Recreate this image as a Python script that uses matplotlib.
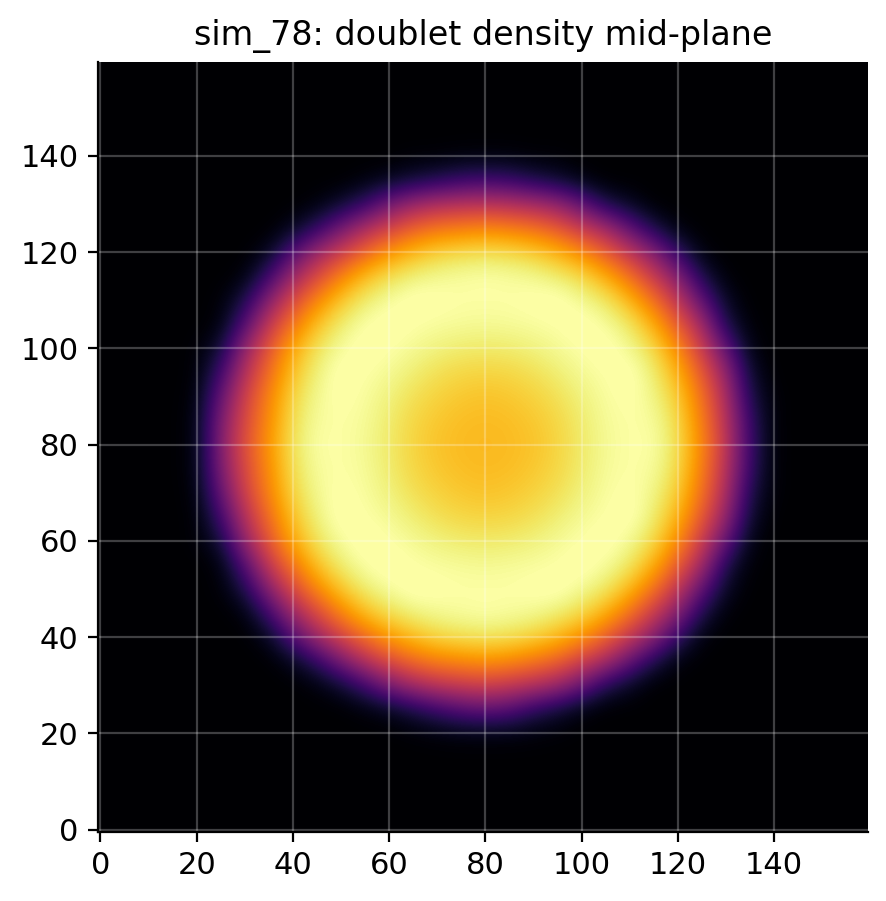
import numpy as np
import matplotlib
matplotlib.use("Agg")
import matplotlib.pyplot as plt

# density every 5 cells, x and y both 20..140, bottom row first
density_core = [
    [0, 0, 0, 0, 0, 0, 0, 0, 0, .01, .02, .03, .03, .03, .02, .01, 0, 0, 0, 0, 0, 0, 0, 0, 0],
    [0, 0, 0, 0, 0, 0, 0, .02, .05, .11, .18, .24, .27, .24, .15, .09, .03, 0, 0, 0, 0, 0, 0, 0, 0],
    [0, 0, 0, 0, 0, .02, .08, .19, .34, .44, .50, .53, .55, .52, .48, .42, .30, .13, .06, 0, 0, 0, 0, 0, 0],
    [0, 0, 0, 0, .05, .16, .33, .48, .59, .67, .72, .74, .76, .74, .70, .65, .55, .45, .28, .12, .02, 0, 0, 0, 0],
    [0, 0, 0, .05, .24, .42, .56, .68, .78, .85, .90, .92, .93, .92, .89, .84, .76, .65, .52, .37, .17, .02, 0, 0, 0],
    [0, 0, .02, .19, .42, .58, .73, .85, .92, .96, .98, .99, 1.0, .99, .98, .95, .91, .82, .69, .53, .36, .12, .01, 0, 0],
    [0, .01, .12, .37, .58, .74, .87, .95, .99, 1.02, 1.01, 1.0, 1.0, 1.0, 1.01, 1.02, .98, .94, .84, .69, .51, .27, .06, 0, 0],
    [0, .02, .24, .52, .70, .86, .95, 1.0, 1.02, 1.0, .99, .985, .98, .985, .99, 1.0, 1.02, .99, .94, .82, .64, .44, .12, .01, 0],
    [.01, .09, .40, .62, .81, .93, .99, 1.02, 1.0, .98, .96, .945, .94, .945, .96, .98, 1.0, 1.02, .98, .91, .75, .54, .28, .03, 0],
    [.01, .19, .48, .68, .86, .96, 1.02, 1.0, .98, .95, .92, .90, .895, .90, .92, .95, .98, 1.0, 1.02, .95, .83, .63, .40, .08, 0],
    [.02, .28, .55, .73, .90, .98, 1.01, .99, .96, .92, .89, .87, .86, .87, .89, .92, .96, .99, 1.01, .97, .88, .69, .46, .12, .01],
    [.03, .34, .58, .75, .92, .99, 1.0, .985, .945, .90, .87, .85, .845, .85, .87, .90, .945, .985, 1.0, .99, .91, .72, .49, .17, .01],
    [.03, .36, .60, .77, .93, 1.0, 1.0, .98, .94, .895, .86, .845, .84, .845, .86, .895, .94, .98, 1.0, 1.0, .92, .74, .51, .18, .01],
    [.03, .34, .58, .75, .92, .99, 1.0, .985, .945, .90, .87, .85, .845, .85, .87, .90, .945, .985, 1.0, .99, .91, .72, .49, .17, .01],
    [.02, .28, .55, .73, .90, .98, 1.01, .99, .96, .92, .89, .87, .86, .87, .89, .92, .96, .99, 1.01, .97, .88, .69, .46, .12, .01],
    [.01, .19, .48, .68, .86, .96, 1.02, 1.0, .98, .95, .92, .90, .895, .90, .92, .95, .98, 1.0, 1.02, .95, .83, .63, .40, .08, 0],
    [.01, .09, .40, .62, .81, .93, .99, 1.02, 1.0, .98, .96, .945, .94, .945, .96, .98, 1.0, 1.02, .98, .91, .75, .54, .28, .03, 0],
    [0, .02, .24, .52, .70, .86, .95, 1.0, 1.02, 1.0, .99, .985, .98, .985, .99, 1.0, 1.02, .99, .94, .82, .64, .44, .12, .01, 0],
    [0, .01, .12, .37, .58, .74, .87, .95, .99, 1.02, 1.01, 1.0, 1.0, 1.0, 1.01, 1.02, .98, .94, .84, .69, .51, .27, .06, 0, 0],
    [0, 0, .02, .19, .42, .58, .73, .85, .92, .96, .98, .99, 1.0, .99, .98, .95, .91, .82, .69, .53, .36, .12, .01, 0, 0],
    [0, 0, 0, .05, .24, .42, .54, .66, .77, .84, .89, .91, .92, .91, .88, .83, .75, .64, .51, .36, .17, .02, 0, 0, 0],
    [0, 0, 0, 0, .05, .16, .32, .46, .56, .65, .70, .72, .74, .72, .69, .63, .53, .44, .27, .12, .02, 0, 0, 0, 0],
    [0, 0, 0, 0, 0, .02, .08, .17, .32, .42, .47, .49, .50, .48, .45, .40, .28, .12, .06, 0, 0, 0, 0, 0, 0],
    [0, 0, 0, 0, 0, 0, 0, .02, .05, .09, .13, .17, .19, .17, .12, .08, .03, 0, 0, 0, 0, 0, 0, 0, 0],
    [0, 0, 0, 0, 0, 0, 0, 0, 0, .01, .01, .02, .02, .02, .01, .01, 0, 0, 0, 0, 0, 0, 0, 0, 0],
]
ticks = [0, 20, 40, 60, 80, 100, 120, 140]
title = "sim_78: doublet density mid-plane"

# outside the disc everything is zero, 4 more samples each way
density = np.pad(np.array(density_core), 4)

dpi = 200
fig = plt.figure(figsize=(887 / dpi, 901 / dpi), dpi=dpi)
ax = fig.add_axes([98 / 887, 1 - 832 / 901, 770 / 887, 770 / 901])

ax.imshow(density, cmap="inferno", vmin=0, vmax=1, origin="lower",
          extent=(-2.5, 162.5, -2.5, 162.5), interpolation="bicubic", aspect="auto")
ax.set_xlim(-0.5, 159.5)
ax.set_ylim(-0.5, 159.5)

ax.set_xticks(ticks)
ax.set_yticks(ticks)
ax.tick_params(labelsize=11)
ax.grid(True, color="white", alpha=0.25, linewidth=0.8)
ax.spines["top"].set_visible(False)
ax.spines["right"].set_visible(False)
ax.set_title(title, fontsize=12)

fig.savefig("out.png", dpi=dpi)
